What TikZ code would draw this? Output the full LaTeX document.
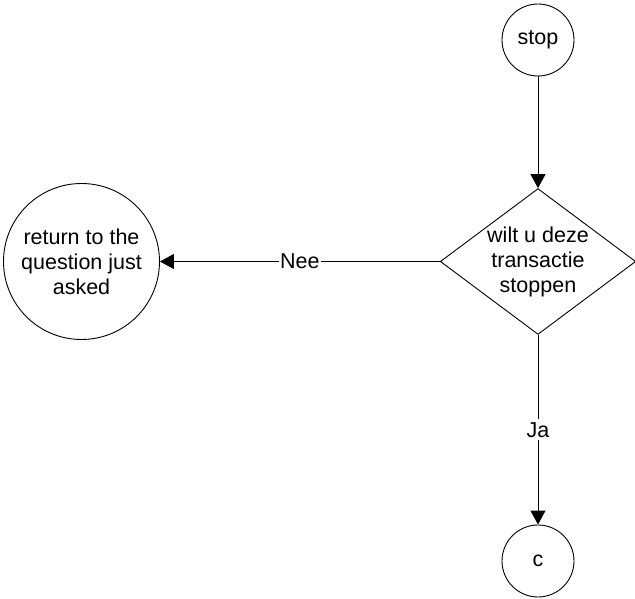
\documentclass[tikz,border=0pt]{standalone}
\usepackage{fontspec}
\setmainfont{Liberation Sans}
\usetikzlibrary{arrows.meta, shapes.geometric}

\begin{document}
\begin{tikzpicture}[x=1pt, y=-1pt, line width=0.9pt,
		font=\fontsize{21.5}{25}\selectfont,
		every edge/.style={draw, -{Triangle[length=14pt, width=15pt]}}]
		\useasboundingbox (0,0) rectangle (635,599);
		\node[draw, circle, inner sep=0pt, minimum size=72pt] (S) at (538,40) {stop};
		\node[draw, diamond, aspect=1.34, inner sep=0pt, align=center,
			minimum width=192pt, minimum height=143pt] (D) at (538,261.5) {wilt u deze\\transactie\\stoppen};
		\node[draw, circle, inner sep=0pt, align=center, minimum size=156pt] (R) at (81.5,261.5) {return to the\\question just\\asked};
		\node[draw, circle, inner sep=0pt, minimum size=72pt] (C) at (538,561) {c};
		\path (S) edge (D)
			(D.west) edge node[fill=white, inner sep=1pt] {Nee} (R)
			(D.south) edge node[fill=white, inner sep=3pt] {Ja} (C);
	\end{tikzpicture}
\end{document}
